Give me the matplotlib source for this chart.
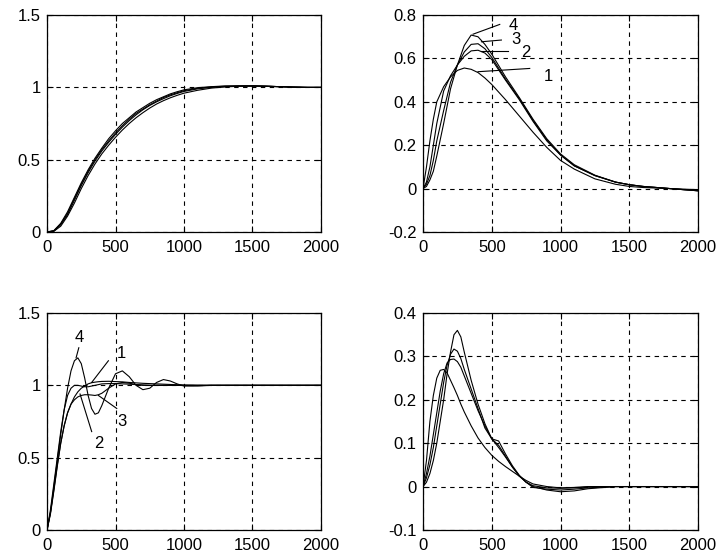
import matplotlib
matplotlib.use("Agg")
import matplotlib.pyplot as plt

plt.rcParams["font.family"] = ["Liberation Sans", "DejaVu Sans"]
plt.rcParams["font.size"] = 12

# ---- top-left: step responses (all four nearly identical)
tl_x = [0, 50, 100, 150, 200, 250, 300, 350, 400, 450, 500, 550, 600, 650, 700,
        750, 800, 850, 900, 950, 1000, 1100, 1200, 1300, 1400, 1500, 1600, 1700,
        1800, 1900, 2000]
tl_y1 = [0, 0.01, 0.06, 0.14, 0.24, 0.34, 0.43, 0.51, 0.58, 0.645, 0.70, 0.75, 0.79,
         0.83, 0.86, 0.89, 0.915, 0.935, 0.955, 0.97, 0.983, 0.998, 1.005, 1.01,
         1.01, 1.01, 1.008, 1.005, 1.002, 1.0, 1.0]
tl_y2 = [0, 0.008, 0.055, 0.13, 0.23, 0.33, 0.42, 0.50, 0.57, 0.63, 0.685, 0.735,
         0.78, 0.82, 0.85, 0.88, 0.905, 0.93, 0.948, 0.963, 0.977, 0.994, 1.003,
         1.008, 1.01, 1.01, 1.008, 1.005, 1.002, 1.0, 1.0]
tl_y3 = [0, 0.006, 0.05, 0.12, 0.22, 0.32, 0.41, 0.49, 0.56, 0.62, 0.675, 0.725,
         0.77, 0.81, 0.845, 0.875, 0.90, 0.922, 0.942, 0.958, 0.972, 0.99, 1.0,
         1.006, 1.009, 1.01, 1.008, 1.005, 1.002, 1.0, 1.0]
tl_y4 = [0, 0.005, 0.04, 0.11, 0.20, 0.30, 0.39, 0.47, 0.54, 0.60, 0.655, 0.705,
         0.75, 0.79, 0.825, 0.857, 0.885, 0.908, 0.928, 0.945, 0.96, 0.98, 0.995,
         1.003, 1.008, 1.01, 1.008, 1.005, 1.002, 1.0, 1.0]

# ---- top-right: pulse-like responses, curves labelled 1..4
tr_x = [0, 25, 50, 75, 100, 150, 200, 250, 300, 350, 400, 450, 500, 600, 700, 800,
        900, 1000, 1100, 1250, 1400, 1500, 1600, 1800, 2000]
tr_y1 = [0, 0.10, 0.22, 0.32, 0.40, 0.47, 0.515, 0.545, 0.556, 0.55, 0.535, 0.51,
         0.48, 0.41, 0.335, 0.26, 0.19, 0.13, 0.09, 0.045, 0.02, 0.01, 0.005, 0.0, -0.005]
tr_y2 = [0, 0.03, 0.10, 0.20, 0.30, 0.45, 0.52, 0.57, 0.61, 0.635, 0.638, 0.625,
         0.595, 0.50, 0.41, 0.31, 0.22, 0.155, 0.105, 0.06, 0.03, 0.018, 0.01, 0.0, -0.01]
tr_y3 = [0, 0.02, 0.06, 0.13, 0.22, 0.36, 0.49, 0.57, 0.63, 0.665, 0.668, 0.645,
         0.605, 0.505, 0.415, 0.315, 0.225, 0.155, 0.105, 0.06, 0.03, 0.018, 0.01, 0.0, -0.01]
tr_y4 = [0, 0.01, 0.04, 0.08, 0.15, 0.30, 0.46, 0.57, 0.66, 0.708, 0.70, 0.665,
         0.62, 0.515, 0.42, 0.32, 0.23, 0.16, 0.11, 0.062, 0.03, 0.018, 0.01, 0.0, -0.01]
tr_labels = ["1", "2", "3", "4"]
tr_lead_start = [(400, 0.539), (425, 0.636), (425, 0.677), (364, 0.712)]
tr_lead_end = [(776, 0.554), (618, 0.636), (570, 0.685), (558, 0.757)]
tr_text_pos = [(909, 0.516), (747, 0.628), (679, 0.689), (655, 0.754)]

# ---- bottom-left: step responses with overshoot, labelled 1..4
bl_x = [0, 25, 50, 75, 100, 125, 150, 175, 200, 225, 250, 275, 300, 325, 350, 375,
        400, 450, 500, 550, 600, 650, 700, 750, 800, 850, 900, 950, 1000, 1100,
        1200, 1300, 1500, 2000]
bl_y1 = [0, 0.12, 0.28, 0.45, 0.60, 0.72, 0.81, 0.87, 0.92, 0.955, 0.98, 0.995,
         1.01, 1.018, 1.022, 1.025, 1.027, 1.028, 1.026, 1.024, 1.02, 1.017, 1.014,
         1.012, 1.01, 1.008, 1.006, 1.004, 1.002, 1.0, 1.0, 1.0, 1.0, 1.0]
bl_y2 = [0, 0.14, 0.32, 0.50, 0.68, 0.83, 0.93, 0.98, 1.0, 1.0, 0.995, 0.99, 0.99,
         0.995, 1.0, 1.005, 1.01, 1.012, 1.012, 1.01, 1.008, 1.005, 1.003, 1.0, 1.0,
         1.0, 1.0, 1.0, 1.0, 1.0, 1.0, 1.0, 1.0, 1.0]
bl_y3 = [0, 0.11, 0.27, 0.44, 0.60, 0.72, 0.81, 0.87, 0.90, 0.92, 0.93, 0.935,
         0.935, 0.933, 0.93, 0.935, 0.945, 0.98, 1.01, 1.02, 1.015, 1.005, 1.0, 1.0,
         1.0, 1.0, 1.0, 1.0, 1.0, 1.0, 1.0, 1.0, 1.0, 1.0]
bl_y4 = [0, 0.12, 0.30, 0.48, 0.66, 0.83, 0.98, 1.10, 1.17, 1.19, 1.15, 1.05, 0.93,
         0.84, 0.80, 0.81, 0.86, 0.98, 1.08, 1.10, 1.06, 1.0, 0.97, 0.98, 1.02,
         1.04, 1.03, 1.01, 0.995, 0.995, 1.0, 1.0, 1.0, 1.0]
bl_labels = ["1", "2", "3", "4"]
bl_lead_start = [(448, 1.17), (326, 0.68), (509, 0.84), (232, 1.26)]
bl_lead_end = [(326, 1.02), (241, 0.94), (375, 0.93), (212, 1.19)]
bl_text_pos = [(545, 1.22), (375, 0.60), (545, 0.75), (235, 1.33)]

# ---- bottom-right: pulse-like responses
br_x = [0, 25, 50, 75, 100, 125, 150, 175, 200, 225, 250, 275, 300, 350, 400, 450,
        500, 550, 600, 650, 700, 750, 800, 900, 1000, 1100, 1200, 1400, 1600, 2000]
br_y1 = [0, 0.06, 0.15, 0.21, 0.25, 0.268, 0.27, 0.262, 0.245, 0.228, 0.21, 0.19,
         0.172, 0.14, 0.112, 0.09, 0.072, 0.058, 0.046, 0.035, 0.024, 0.014, 0.006,
         0.0, -0.003, -0.002, 0.0, 0.0, 0.0, 0.0]
br_y2 = [0, 0.03, 0.07, 0.12, 0.17, 0.22, 0.26, 0.285, 0.293, 0.294, 0.288, 0.275,
         0.255, 0.215, 0.175, 0.14, 0.11, 0.095, 0.07, 0.045, 0.024, 0.01, 0.002,
         -0.003, -0.004, -0.003, -0.001, 0.0, 0.0, 0.0]
br_y3 = [0, 0.02, 0.05, 0.09, 0.14, 0.19, 0.24, 0.28, 0.305, 0.317, 0.312, 0.295,
         0.27, 0.225, 0.18, 0.135, 0.11, 0.105, 0.075, 0.048, 0.026, 0.01, -0.002,
         -0.006, -0.008, -0.006, -0.003, 0.0, 0.0, 0.0]
br_y4 = [0, 0.01, 0.03, 0.06, 0.10, 0.15, 0.20, 0.26, 0.31, 0.35, 0.36, 0.345,
         0.31, 0.245, 0.19, 0.145, 0.11, 0.09, 0.068, 0.045, 0.025, 0.01, 0.0,
         -0.008, -0.012, -0.01, -0.005, 0.0, 0.0, 0.0]

x_ticks = [0, 500, 1000, 1500, 2000]


def style_axes(ax, yticks, ylabels, ylim):
    ax.set_xlim(0, 2000)
    ax.set_ylim(*ylim)
    ax.set_xticks(x_ticks)
    ax.set_xticklabels([str(t) for t in x_ticks])
    ax.set_yticks(yticks)
    ax.set_yticklabels(ylabels)
    ax.grid(True, color="black", linestyle=(0, (4, 4)), linewidth=0.8)
    ax.tick_params(direction="in", length=4, width=0.8, top=True, right=True,
                   labelsize=12)
    ax.tick_params(axis="x", pad=5.5)
    ax.tick_params(axis="y", pad=4.5)
    for sp in ax.spines.values():
        sp.set_linewidth(0.9)


def add_labels(ax, labels, starts, ends, texts):
    for lab, s, e, t in zip(labels, starts, ends, texts):
        ax.plot([s[0], e[0]], [s[1], e[1]], color="black", linewidth=0.8)
        ax.text(t[0], t[1], lab, ha="center", va="center", fontsize=12)


fig = plt.figure(figsize=(7.17, 5.59), dpi=100)
ax_tl = fig.add_axes([0.0656, 0.585, 0.382, 0.388])
ax_tr = fig.add_axes([0.590, 0.585, 0.3835, 0.388])
ax_bl = fig.add_axes([0.0656, 0.052, 0.382, 0.388])
ax_br = fig.add_axes([0.590, 0.052, 0.3835, 0.388])

for y in (tl_y1, tl_y2, tl_y3, tl_y4):
    ax_tl.plot(tl_x, y, color="black", linewidth=0.8)
style_axes(ax_tl, [0, 0.5, 1, 1.5], ["0", "0.5", "1", "1.5"], (0, 1.5))

for y in (tr_y1, tr_y2, tr_y3, tr_y4):
    ax_tr.plot(tr_x, y, color="black", linewidth=0.8)
style_axes(ax_tr, [-0.2, 0, 0.2, 0.4, 0.6, 0.8],
           ["-0.2", "0", "0.2", "0.4", "0.6", "0.8"], (-0.2, 0.8))
add_labels(ax_tr, tr_labels, tr_lead_start, tr_lead_end, tr_text_pos)

for y in (bl_y1, bl_y2, bl_y3, bl_y4):
    ax_bl.plot(bl_x, y, color="black", linewidth=0.8)
style_axes(ax_bl, [0, 0.5, 1, 1.5], ["0", "0.5", "1", "1.5"], (0, 1.5))
add_labels(ax_bl, bl_labels, bl_lead_start, bl_lead_end, bl_text_pos)

for y in (br_y1, br_y2, br_y3, br_y4):
    ax_br.plot(br_x, y, color="black", linewidth=0.8)
style_axes(ax_br, [-0.1, 0, 0.1, 0.2, 0.3, 0.4],
           ["-0.1", "0", "0.1", "0.2", "0.3", "0.4"], (-0.1, 0.4))

fig.savefig("out.png", dpi=100)
